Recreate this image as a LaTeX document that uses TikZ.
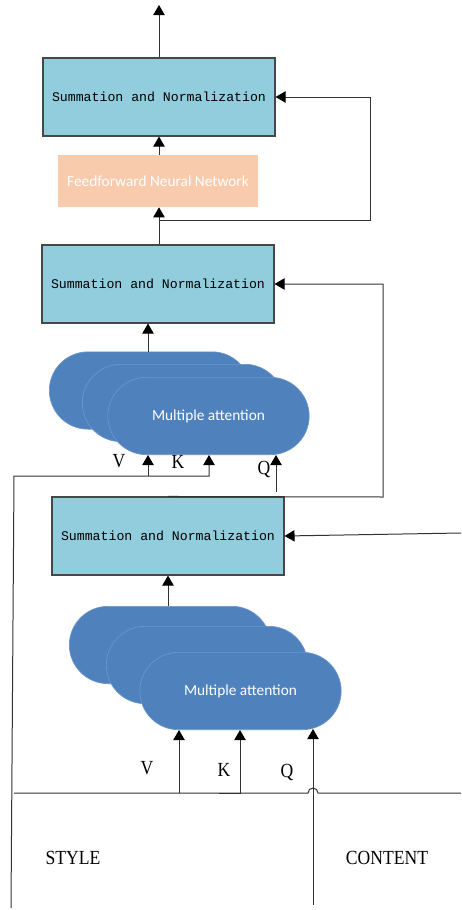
\documentclass[tikz,border=0pt]{standalone}
\usepackage{fontspec}
\usetikzlibrary{arrows.meta}
\newfontfamily\boxfont{Liberation Mono}
\newfontfamily\blobfont{Carlito}
\newfontfamily\lblfont[FakeStretch=0.88]{Liberation Serif}
\definecolor{sumblue}{RGB}{146,205,221}
\definecolor{ffpeach}{RGB}{248,203,173}
\definecolor{attblue}{RGB}{79,129,189}
\definecolor{attedge}{RGB}{108,150,204}
\definecolor{wire}{RGB}{50,50,50}
\tikzset{
  sumbox/.style={draw=wire!90, line width=0.8pt, fill=sumblue, minimum width=174pt, minimum height=58.5pt,
    inner sep=0pt, font=\boxfont\fontsize{9.9}{11}\selectfont},
  ffbox/.style={fill=ffpeach, minimum width=150pt, minimum height=39pt, inner sep=0pt,
    text=white, font=\blobfont\fontsize{11.5}{13}\selectfont},
  attn/.style={fill=attblue, draw=attedge, line width=0.5pt, rounded corners=29pt,
    minimum width=151pt, minimum height=58pt, inner sep=0pt,
    text=white, font=\blobfont\fontsize{11.5}{13}\selectfont},
  lbl/.style={inner sep=0pt, font=\lblfont\fontsize{15}{16}\selectfont},
  wireline/.style={draw=wire, line width=0.75pt},
  arr/.style={wireline, -{Triangle[width=8.5pt,length=7.5pt,color=black]}}
}
\begin{document}
\begin{tikzpicture}[x=0.75pt, y=-0.75pt]
\useasboundingbox (0,0) rectangle (461,910);

% ---------- upper encoder stage ----------
\node[sumbox] (sum1) at (159,97) {Summation and Normalization};
\node[ffbox] (ffn) at (158,181) {Feedforward Neural Network};
\node[sumbox] (sum2) at (158,284) {Summation and Normalization};

\node[attn] (a2back)  at (150,390.5) {};
\node[attn] (a2mid)   at (183,403)   {};
\node[attn] (a2front) at (208.5,416) {Multiple attention};

% ---------- lower stage ----------
\node[sumbox] (sum3) at (168,536) {Summation and Normalization};

\node[attn] (a1back)  at (170,645) {};
\node[attn] (a1mid)   at (207,665) {};
\node[attn] (a1front) at (240.5,691) {Multiple attention};

% ---------- labels ----------
\node[lbl] (v2) at (119,461) {V};
\node[lbl] (k2) at (178,462) {K};
\node[lbl] (q2) at (264,469) {Q};
\node[lbl] (v1) at (147,768) {V};
\node[lbl] (k1) at (224,770) {K};
\node[lbl] (q1) at (287,772) {Q};
\node[lbl] (style)   at (73,858)  {STYLE};
\node[lbl] (content) at (387,858) {CONTENT};

% ---------- routing points ----------
\coordinate (out)   at (159,5);
\coordinate (res1)  at (159,220);
\coordinate (res1r) at (370,220);
\coordinate (res2r) at (383,497);
\coordinate (q2src) at (276,492);
\coordinate (stybot) at (11,908);
\coordinate (stytop) at (14,476);
\coordinate (kcorner) at (209,476);
\coordinate (vsrc2) at (148,476);
\coordinate (cin)   at (461,533);
\coordinate (busl)  at (14,793);
\coordinate (busr)  at (461,793);
\coordinate (vsrc1) at (179,793);
\coordinate (ksrc1) at (219,793);
\coordinate (kcorn1) at (240,793);
\coordinate (qsrc1) at (313,905);

% ---------- connectors ----------
\draw[arr] (sum1.north) -- (out);
\draw[arr] (ffn.north -| sum1.south) -- (sum1.south);
\draw[arr] (sum2.north -| res1) -- (ffn.south -| res1);
\draw[arr] (res1) -- (res1r) |- (sum1.east);
\draw[arr] (a2back.north -| 148,0) -- (sum2.south -| 148,0);
\draw[arr] (sum3.north) -- (res2r) |- (sum2.east);
\draw[arr] (q2src) -- (a2front.south -| q2src);
\draw[arr] (stybot) -- (stytop) -- (kcorner) -- (a2front.south -| kcorner);
\draw[arr] (vsrc2) -- (a2front.south -| vsrc2);

\draw[arr] (cin) -- (sum3.east);
\draw[arr] (a1back.north -| sum3.south) -- (sum3.south);

\draw[wireline] (busl) -- (308,793) arc[start angle=180, end angle=0, radius=3.75pt] -- (busr);
\draw[arr] (vsrc1) -- (a1front.south -| vsrc1);
\draw[arr] (ksrc1) -- (kcorn1) -- (a1front.south -| kcorn1);
\draw[arr] (qsrc1) -- ([yshift=0.75pt]a1front.south -| qsrc1);
\end{tikzpicture}
\end{document}
